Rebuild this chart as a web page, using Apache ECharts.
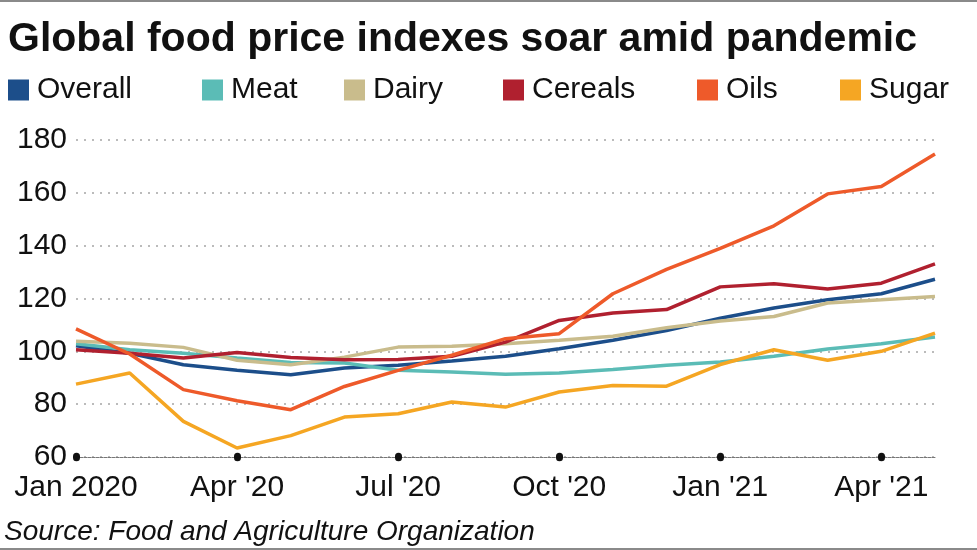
<!DOCTYPE html>
<html>
<head>
<meta charset="utf-8">
<script src="https://cdn.jsdelivr.net/npm/echarts@6/dist/echarts.min.js"></script>
<style>
html,body{margin:0;padding:0;background:#fff;}
#chart{width:977px;height:550px;}
</style>
</head>
<body>
<div id="chart"></div>
<script>
const months = ["Jan 2020","Feb '20","Mar '20","Apr '20","May '20","Jun '20","Jul '20","Aug '20","Sep '20","Oct '20","Nov '20","Dec '20","Jan '21","Feb '21","Mar '21","Apr '21","May '21"];
const overall = [102.1, 99.3, 94.9, 92.8, 91.1, 93.7, 94.7, 96.3, 98.1, 101.0, 104.2, 107.9, 112.5, 116.4, 119.5, 121.8, 127.3];
const meat    = [102.9, 100.6, 99.3, 97.5, 95.8, 95.6, 92.8, 92.2, 91.3, 91.8, 93.1, 94.7, 96.0, 98.1, 100.9, 102.9, 105.4];
const dairy   = [103.8, 103.1, 101.5, 96.6, 94.9, 97.8, 101.6, 101.9, 102.9, 104.2, 105.7, 108.9, 111.5, 113.2, 118.3, 119.5, 120.8];
const cereals = [100.6, 99.3, 97.5, 99.6, 97.7, 96.8, 96.9, 98.1, 103.5, 111.7, 114.5, 115.8, 124.4, 125.6, 123.6, 125.8, 133.1];
const oils    = [108.5, 99.0, 85.5, 81.3, 77.9, 86.7, 92.8, 98.5, 104.8, 106.7, 121.8, 131.0, 139.0, 147.5, 159.6, 162.4, 174.7];
const sugar   = [87.6, 91.8, 73.5, 63.4, 68.1, 75.1, 76.4, 80.8, 78.9, 84.6, 87.1, 86.8, 95.0, 100.6, 96.6, 100.0, 106.9];
const yTicks = {min: 60, max: 180, step: 20};

const names  = ["Overall","Meat","Dairy","Cereals","Oils","Sugar"];
const values = [overall, meat, dairy, cereals, oils, sugar];
const colors = ["#1c4e8a","#5bbcb6","#c9bc8c","#b0202f","#ee5a2a","#f5a623"];
const legendLeft = [8, 202, 344, 503, 697, 840];

const chart = echarts.init(document.getElementById('chart'));
const font = "'Liberation Sans', Arial, Helvetica, sans-serif";

const tickDot = {show: true, interval: 2, length: 0.8, lineStyle: {color: '#111', width: 7, cap: 'round'}};

chart.setOption({
  animation: false,
  backgroundColor: '#fff',
  textStyle: {fontFamily: font},
  title: [
    {text: 'Global food price indexes soar amid pandemic', left: 8, top: 19, padding: 0,
     textStyle: {fontSize: 41, fontWeight: 'bold', color: '#111', lineHeight: 41, fontFamily: font}},
    {text: 'Source: Food and Agriculture Organization', left: 4, top: 518, padding: 0,
     textStyle: {fontSize: 28, fontWeight: 'normal', fontStyle: 'italic', color: '#111', lineHeight: 28, fontFamily: font}}
  ],
  legend: names.map((n, i) => ({
    data: [n], left: legendLeft[i], top: 75, padding: 0,
    itemWidth: 21, itemHeight: 21, icon: 'rect',
    textStyle: {fontSize: 30, color: '#111', lineHeight: 30, padding: [0,0,0,3], fontFamily: font}
  })),
  graphic: [
    {type: 'rect', left: 0, top: 0, shape: {width: 977, height: 2}, style: {fill: '#8a8a8a'}},
    {type: 'rect', left: 0, top: 548, shape: {width: 977, height: 2}, style: {fill: '#8a8a8a'}}
  ],
  grid: {left: 76, right: 42, top: 140, bottom: 93, containLabel: false},
  xAxis: [
    {
      type: 'category', data: months, boundaryGap: false, position: 'bottom',
      axisLine: {show: true, lineStyle: {color: '#777', width: 1, type: [3, 1]}},
      axisTick: Object.assign({inside: false}, tickDot),
      axisLabel: {interval: 2, fontSize: 30, color: '#111', margin: 16, lineHeight: 30, fontFamily: font}
    },
    {
      type: 'category', data: months, boundaryGap: false, position: 'bottom', offset: 0,
      axisLine: {show: false},
      axisTick: Object.assign({inside: true}, tickDot),
      axisLabel: {show: false}
    }
  ],
  yAxis: {
    type: 'value', min: yTicks.min, max: yTicks.max, interval: yTicks.step,
    axisLine: {show: false}, axisTick: {show: false},
    axisLabel: {fontSize: 30, color: '#111', margin: 9, fontFamily: font},
    splitLine: {show: true, lineStyle: {color: '#bbb', width: 2, type: [2, 6]}}
  },
  series: names.map((n, i) => ({
    name: n, type: 'line', data: values[i], showSymbol: false, symbol: 'none',
    xAxisIndex: 0,
    itemStyle: {color: colors[i]},
    lineStyle: {color: colors[i], width: 3.5}
  }))
});
</script>
</body>
</html>
